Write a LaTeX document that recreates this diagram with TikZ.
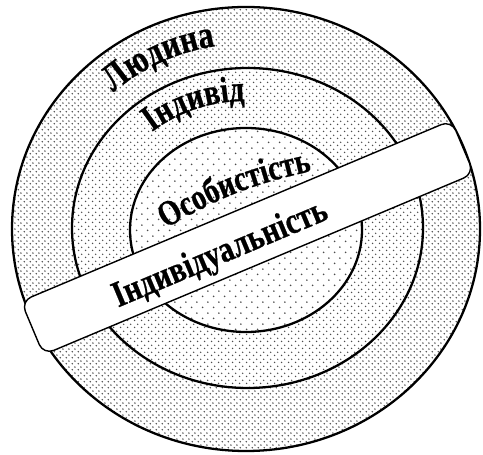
\documentclass[tikz,border=0pt]{standalone}
\usepackage{fontspec}
\setmainfont{Liberation Serif}
\newfontfamily\condserif[FakeStretch=0.8, FakeBold=0.6]{Liberation Serif}
\usepackage{tikz}
\usetikzlibrary{decorations.text, patterns}

% 点状底纹
\pgfdeclarepatternformonly{dotsdense}{\pgfpointorigin}{\pgfqpoint{3.2pt}{3.2pt}}{\pgfqpoint{3.2pt}{3.2pt}}{%
  \pgfpathcircle{\pgfqpoint{0.8pt}{0.8pt}}{0.5pt}%
  \pgfpathcircle{\pgfqpoint{2.4pt}{2.4pt}}{0.5pt}%
  \pgfusepath{fill}}
\pgfdeclarepatternformonly{dotsmedium}{\pgfpointorigin}{\pgfqpoint{4pt}{4pt}}{\pgfqpoint{4pt}{4pt}}{%
  \pgfpathcircle{\pgfqpoint{1pt}{1pt}}{0.5pt}%
  \pgfpathcircle{\pgfqpoint{3pt}{3pt}}{0.5pt}%
  \pgfusepath{fill}}
\pgfdeclarepatternformonly{dotssparse}{\pgfpointorigin}{\pgfqpoint{6.4pt}{6.4pt}}{\pgfqpoint{6.4pt}{6.4pt}}{%
  \pgfpathcircle{\pgfqpoint{1.6pt}{1.6pt}}{0.55pt}%
  \pgfpathcircle{\pgfqpoint{4.8pt}{4.8pt}}{0.55pt}%
  \pgfusepath{fill}}

\begin{document}
\begin{tikzpicture}[x=0.02cm, y=0.02cm, line join=round,
    ring/.style={line width=1.3pt, preaction={fill=white}, pattern color=black!70},
    bandbox/.style={draw, fill=white, line width=0.8pt, rounded corners=0.22cm,
      minimum width=9.34cm, minimum height=1.16cm, inner sep=0pt}]
    \useasboundingbox (-246,-226) rectangle (237,229);
    % 三个同心环
    \draw[ring, pattern=dotsdense] (0,0) ellipse [x radius=234, y radius=222];
    \draw[ring, pattern=dotsmedium] (1.5,1) ellipse [x radius=175.5, y radius=160];
    \draw[ring, pattern=dotssparse] (0,-1) ellipse [x radius=116, y radius=102];
    % 环上的弯曲文字
    \path[decorate, decoration={text along path, text align=center,
        text={|\condserif\bfseries\fontsize{22}{22}\selectfont|Людина}}]
        (146:196 and 185) arc[start angle=146, end angle=86, x radius=196, y radius=185];
    \path[decorate, decoration={text along path, text align=center,
        text={|\condserif\bfseries\fontsize{21}{21}\selectfont|Індивід}}]
        (144:144 and 128) arc[start angle=144, end angle=78, x radius=144, y radius=128];
    \path[decorate, decoration={text along path, text align=center,
        text={|\condserif\bfseries\fontsize{20.5}{20.5}\selectfont|Особистість}}]
        (-89,-5) to[bend left=10] (76,60);
    % 斜穿的长条
    \node[bandbox, rotate=22.8] (band) at (1.5,-8.5) {};
    \node[rotate=22.8, anchor=base, inner sep=0pt,
        font=\condserif\bfseries\fontsize{21}{21}\selectfont] (indiv) at (-22,-34) {Індивідуальність};
\end{tikzpicture}
\end{document}
